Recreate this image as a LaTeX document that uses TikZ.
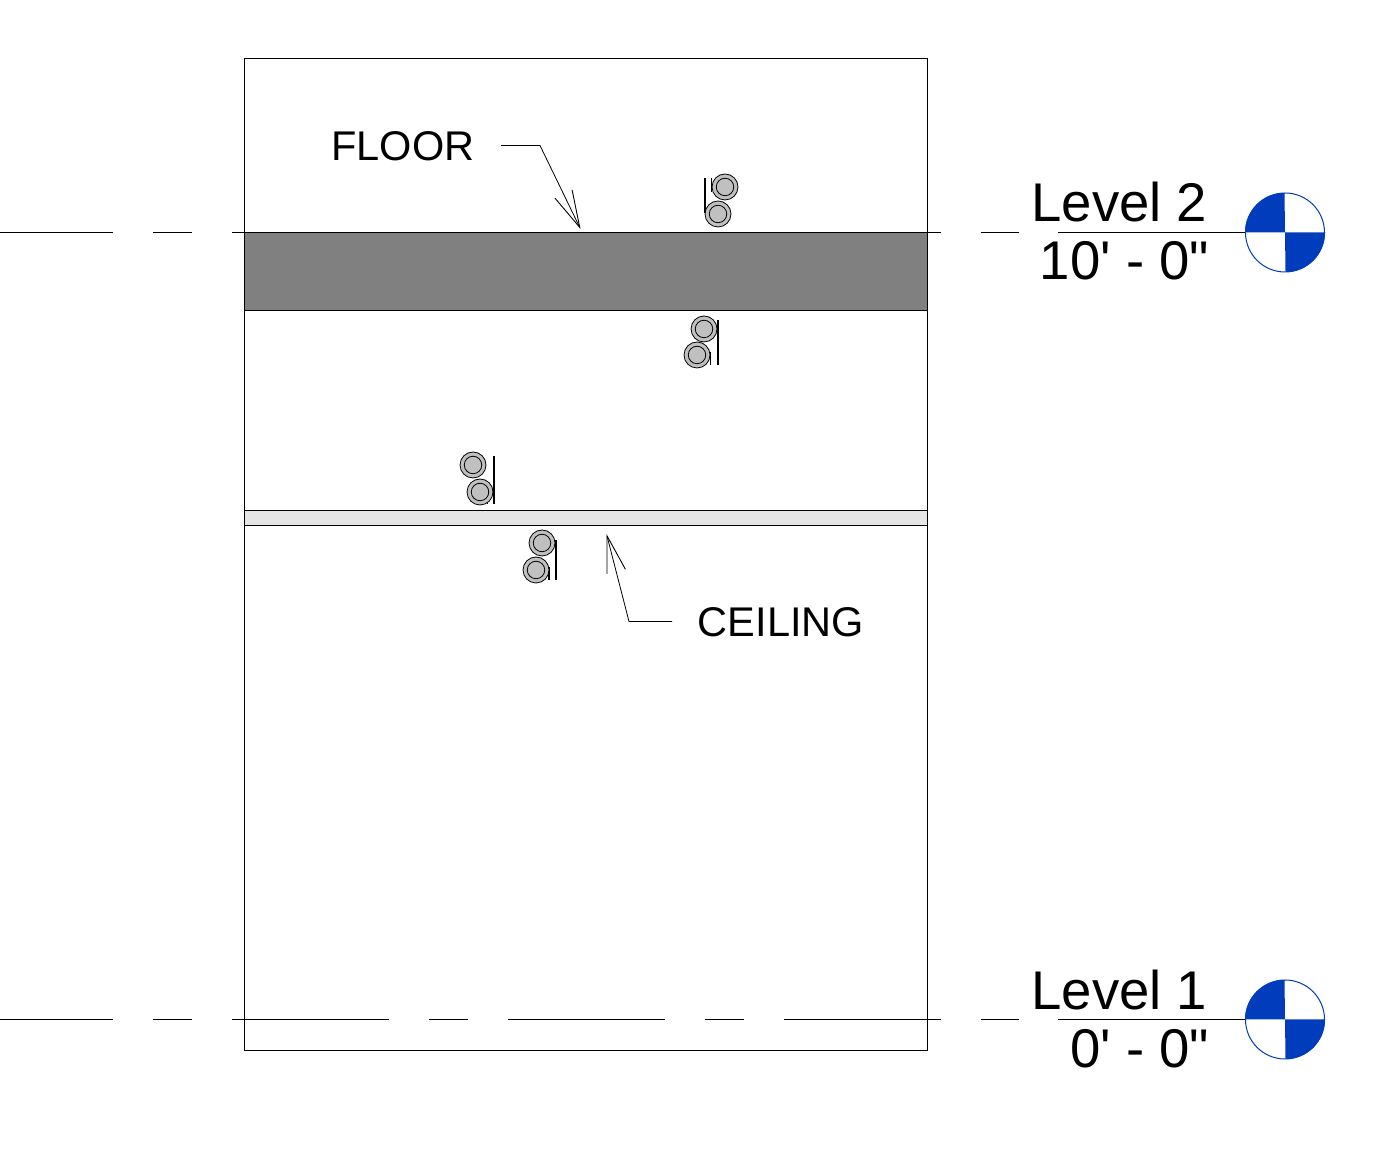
\documentclass[tikz,border=0pt]{standalone}
\usepackage{fontspec}
\newfontfamily\labelfont{Liberation Sans}
\usepackage{tikz}
\usetikzlibrary{calc,positioning}
\usetikzlibrary{arrows.meta}
\definecolor{headblue}{RGB}{0,60,188}
\definecolor{pipegray}{RGB}{192,192,192}
\tikzset{>={Straight Barb[width=19pt,length=37pt,line width=0.9pt]}}

\begin{document}
\begin{tikzpicture}[x=1pt,y=1pt,line width=0.8pt]
          \tikzstyle{pipe} = [draw, circle, fill=pipegray, minimum size=26pt, inner sep=0pt]
          \tikzstyle{core} = [draw, circle, fill=pipegray, minimum size=17.5pt, inner sep=0pt]
          \tikzstyle{head} = [draw=headblue, circle, fill=white, minimum size=79pt, inner sep=0pt, line width=1pt]
          \tikzstyle{levelline} = [line width=0.9pt, dash pattern=on 157pt off 40pt on 39pt off 40pt, dash phase=44pt]
          \tikzstyle{tie} = [line width=1.7pt]
          \tikzstyle{bigtext} = [inner sep=0pt, font=\labelfont\fontsize{54.5}{54.5}\selectfont]
          \tikzstyle{smalltext} = [inner sep=0pt, font=\labelfont\fontsize{41.5}{41.5}\selectfont]
          \useasboundingbox (0,0) rectangle (1378,1167);

          % floor and ceiling
          \node[draw, fill=black!50, minimum width=683pt, minimum height=78pt, inner sep=0pt] (floor) at (585.5,896) {};
          \node[draw, fill=black!10, minimum width=683pt, minimum height=15pt, inner sep=0pt] (ceiling) at (585.5,649.5) {};
          \node[draw, minimum width=683pt, minimum height=992pt, inner sep=0pt] (wall) at (585.5,613) {};

          % level heads
          \node[head] (head2) at (1285,934.5) {};
          \fill[headblue] (head2.center) -- (head2.west) arc (180:90:39.5pt) -- cycle;
          \fill[headblue] (head2.center) -- (head2.east) arc (0:-90:39.5pt) -- cycle;
          \node[head] (head1) at (1285,147.5) {};
          \fill[headblue] (head1.center) -- (head1.west) arc (180:90:39.5pt) -- cycle;
          \fill[headblue] (head1.center) -- (head1.east) arc (0:-90:39.5pt) -- cycle;

          % level lines
          \coordinate (lev2a) at (0,934.5);
          \coordinate (lev2b) at (1019,934.5);
          \coordinate (lev2c) at (1058,934.5);
          \coordinate (lev1a) at (0,147.5);
          \coordinate (lev1b) at (1019,147.5);
          \coordinate (lev1c) at (1058,147.5);
          \draw[levelline] (lev2a) -- (lev2b);
          \draw (lev2c) -- (head2.west);
          \draw[levelline] (lev1a) -- (lev1b);
          \draw (lev1c) -- (head1.west);

          \node[bigtext, anchor=base west] (name2) at (1031,945) {Level 2};
          \node[bigtext, anchor=base east] (elev2) at (1209.5,887) {10' - 0"};
          \node[bigtext, anchor=base west] (name1) at (1031,157) {Level 1};
          \node[bigtext, anchor=base east] (elev1) at (1209.5,99.5) {0' - 0"};

          % ties behind the pipes
          \draw[tie] (705,989) -- (705,954);
          \draw (711,989) -- (711,975);
          \draw[tie] (718,847) -- (718,802);
          \draw (710,815) -- (710,802);
          \draw[tie] (494,711) -- (494,663);
          \draw (487,680) -- (487,663);
          \draw[tie] (556,627) -- (556,587);
          \draw[tie] (549,600) -- (549,587);

          % pipes
          \node[pipe] (p1) at (725,980) {};
          \node[core] (c1) at (p1) {};
          \node[pipe] (p2) at (718,953) {};
          \node[core] (c2) at (p2) {};
          \node[pipe] (p3) at (704,838) {};
          \node[core] (c3) at (p3) {};
          \node[pipe] (p4) at (697,812) {};
          \node[core] (c4) at (p4) {};
          \node[pipe] (p5) at (473,702) {};
          \node[core] (c5) at (p5) {};
          \node[pipe] (p6) at (480,675) {};
          \node[core] (c6) at (p6) {};
          \node[pipe] (p7) at (542,624) {};
          \node[core] (c7) at (p7) {};
          \node[pipe] (p8) at (536,597) {};
          \node[core] (c8) at (p8) {};

          % leaders
          \node[smalltext, anchor=base west] (floorlabel) at (331,1006) {FLOOR};
          \node[smalltext, anchor=base west] (ceilinglabel) at (697.5,530) {CEILING};
          \coordinate (floorstart) at (501,1021.5);
          \coordinate (floorbend) at (540,1021.5);
          \coordinate (floortip) at (580.5,938);
          \coordinate (ceilstart) at (672,545.5);
          \coordinate (ceilbend) at (629,545.5);
          \coordinate (ceiltip) at (606.5,633);
          \draw[->] (floorstart) -- (floorbend) -- (floortip);
          \draw[->] (ceilstart) -- (ceilbend) -- (ceiltip);
        \end{tikzpicture}
\end{document}
